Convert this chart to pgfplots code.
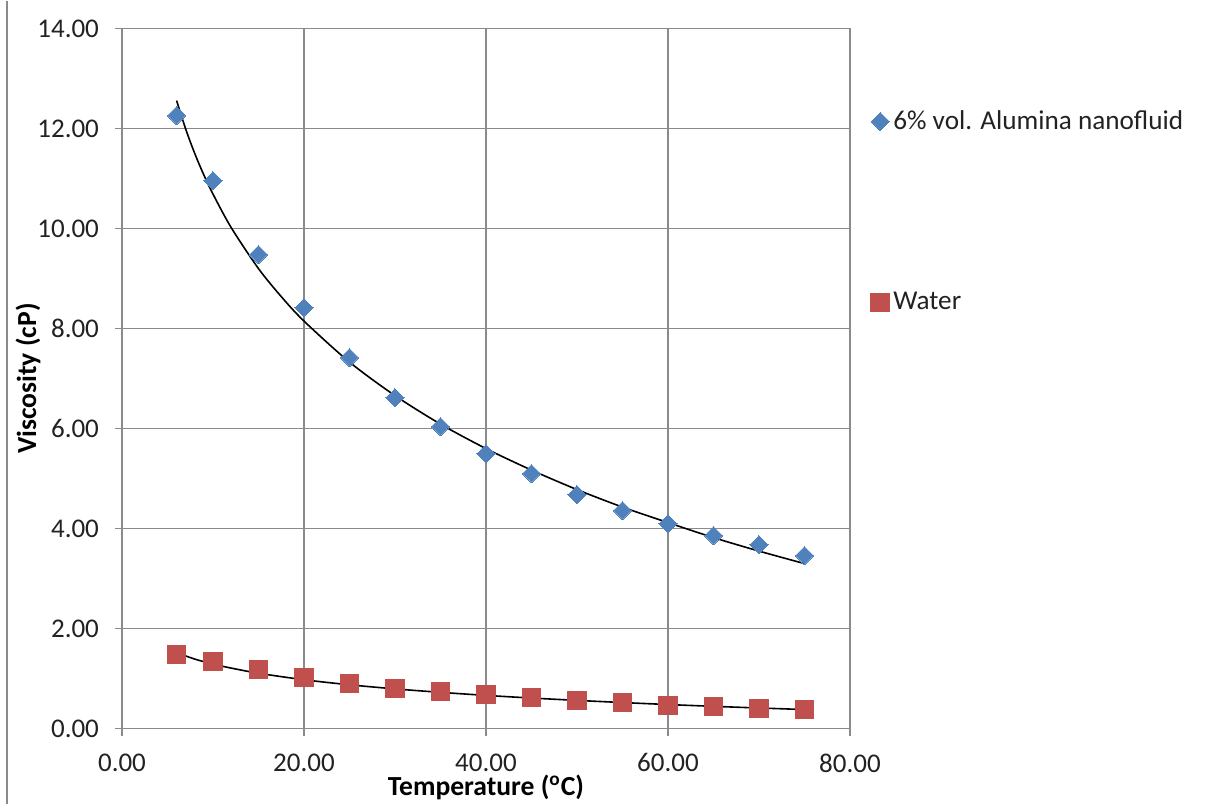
\documentclass[border=0pt]{standalone}
\usepackage{fontspec}
\setmainfont{Carlito}
\usepackage{pgfplots}
\pgfplotsset{compat=1.18}
\usepackage{pgfplotstable}
\definecolor{nanoblue}{HTML}{4F81BD}
\definecolor{waterred}{HTML}{C0504D}
\definecolor{gridgray}{HTML}{8A8A8A}
\definecolor{txt}{HTML}{222222}

\pgfplotstableread{
x y
6 12.26
10 10.96
15 9.48
20 8.42
25 7.42
30 6.62
35 6.04
40 5.50
45 5.10
50 4.68
55 4.36
60 4.10
65 3.86
70 3.68
75 3.46
}\nano

\pgfplotstableread{
x y
6 1.48
10 1.34
15 1.18
20 1.02
25 0.90
30 0.80
35 0.74
40 0.68
45 0.62
50 0.56
55 0.52
60 0.46
65 0.44
70 0.40
75 0.38
}\water

\pgfplotstableread{
x y
6 12.56
7 11.99
8 11.50
9 11.07
10 10.69
12 10.02
15 9.20
17.5 8.64
20 8.15
25 7.33
30 6.66
35 6.09
40 5.60
45 5.17
50 4.78
55 4.43
60 4.12
65 3.82
70 3.55
75 3.30
}\nanofit

\pgfplotstableread{
x y
6 1.52
8 1.39
10 1.29
12 1.21
15 1.107
20 0.977
25 0.876
30 0.794
35 0.725
40 0.664
45 0.611
50 0.564
55 0.521
60 0.481
65 0.445
70 0.412
75 0.381
}\waterfit

\begin{document}
\begin{tikzpicture}
\path (0,0) rectangle (603.5pt,401.5pt);
\draw[gridgray, line width=0.6pt] (3.5pt,0) -- (3.5pt,401.5pt);
\begin{axis}[
  at={(61pt,37.5pt)}, anchor=south west,
  scale only axis, width=364pt, height=350pt,
  xmin=0, xmax=80, ymin=0, ymax=14,
  xtick={0,20,40,60,80}, ytick={0,2,...,14},
  grid=major,
  major grid style={gridgray, line width=0.7pt},
  axis line style={gridgray, line width=0.7pt},
  tick style={gridgray, line width=0.7pt},
  tick align=outside, major tick length=3.5pt,
  xtick pos=bottom, ytick pos=left,
  /pgf/number format/.cd, fixed, fixed zerofill, precision=2, assume math mode=true,
  /pgfplots/.cd,
  ticklabel style={font=\fontsize{13.5}{15}\selectfont, text=txt},
  yticklabel shift=4.5pt,
  xticklabel shift=5.5pt,
  xlabel={Temperature (\textsuperscript{o}C)},
  ylabel={Viscosity (cP)},
  label style={font=\bfseries\fontsize{13.8}{15}\selectfont, text=black},
  xlabel style={at={(axis description cs:0.5,0)}, anchor=center, yshift=-29.5pt},
  ylabel style={at={(axis description cs:0,0.5)}, anchor=center, yshift=47pt},
  legend style={draw=none, fill=none, at={(1.02,0.895)}, anchor=north west,
    font=\fontsize{13.6}{15}\selectfont, row sep=76pt, text=txt},
  legend cell align=left,
]
\addplot[only marks, mark=square*, mark size=3.2pt, mark options={rotate=45, fill=nanoblue, draw=nanoblue, line width=0pt}] table[x=x,y=y] {\nano};
\addlegendentry{6\% vol. Alumina nanofluid}
\addplot[only marks, mark=square*, mark size=4.6pt, mark options={fill=waterred, draw=waterred, line width=0pt}] table[x=x,y=y] {\water};
\addlegendentry{Water}
\addplot[black, line width=0.8pt, smooth, forget plot] table[x=x,y=y] {\nanofit};
\addplot[black, line width=0.8pt, smooth, forget plot] table[x=x,y=y] {\waterfit};
\end{axis}
\end{tikzpicture}
\end{document}
